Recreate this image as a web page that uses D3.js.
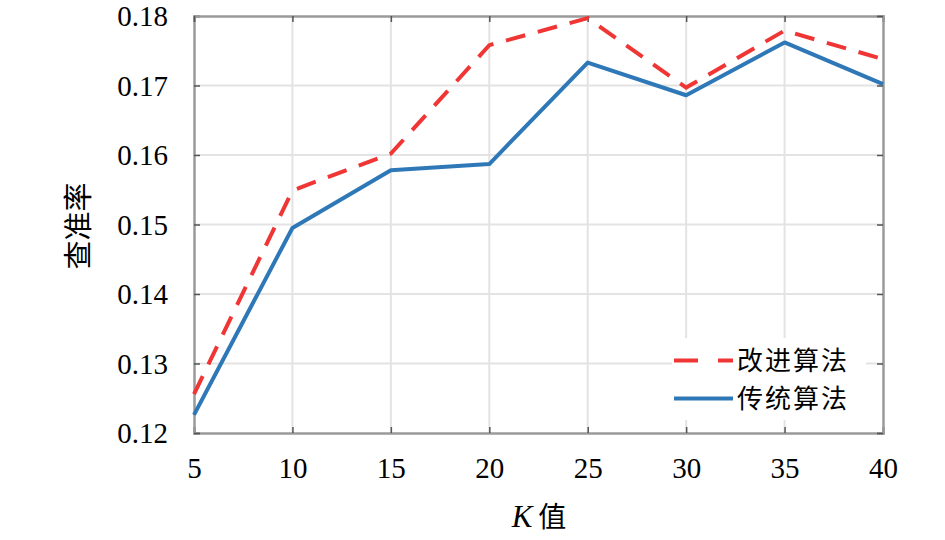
<!DOCTYPE html>
<html>
<head>
<meta charset="utf-8">
<script src="https://cdn.jsdelivr.net/npm/d3@7"></script>
<style>
  body { margin: 0; background: #fff; }
</style>
</head>
<body>
<div id="chart-area"></div>
<script>
// data
var kValues = [5, 10, 15, 20, 25, 30, 35, 40];
var improved = [0.1256, 0.1549, 0.1602, 0.1758, 0.1797, 0.1697, 0.1779, 0.1738];
var traditional = [0.1226, 0.1495, 0.1578, 0.1587, 0.1733, 0.1686, 0.1762, 0.1702];
var seriesNames = ["改进算法", "传统算法"];
var yTicks = [0.12, 0.13, 0.14, 0.15, 0.16, 0.17, 0.18];

var serif = "'Liberation Serif', 'Times New Roman', Times, 'DejaVu Serif', 'Noto Serif', serif";
var cjk = "'Noto Sans CJK SC', sans-serif";

var margin = { left: 194, right: 62, top: 16, bottom: 107 };
var width = 945 - margin.left - margin.right,
    height = 540 - margin.top - margin.bottom;

var svg = d3.select("#chart-area")
    .append("svg")
        .attr("width", 945)
        .attr("height", 540);

var g = svg.append("g")
    .attr("transform", "translate(" + margin.left + ", " + margin.top + ")");

var x = d3.scaleLinear().domain([5, 40]).range([0, width]);
var y = d3.scaleLinear().domain([0.12, 0.18]).range([height, 0]);

// grid
g.selectAll(".vgrid")
    .data(kValues.slice(1, -1))
    .enter().append("line")
        .attr("x1", function(d){ return x(d); })
        .attr("x2", function(d){ return x(d); })
        .attr("y1", 0).attr("y2", height)
        .attr("stroke", "#e3e3e3").attr("stroke-width", 2);

g.selectAll(".hgrid")
    .data(yTicks.slice(1, -1))
    .enter().append("line")
        .attr("y1", function(d){ return y(d); })
        .attr("y2", function(d){ return y(d); })
        .attr("x1", 0).attr("x2", width)
        .attr("stroke", "#e3e3e3").attr("stroke-width", 2);

// axes
var xAxis = g.append("g")
    .attr("transform", "translate(0," + height + ")")
    .call(d3.axisBottom(x).tickValues(kValues).tickSize(-6));
var yAxis = g.append("g")
    .call(d3.axisLeft(y).tickValues(yTicks).tickSize(-6).tickPadding(26)
        .tickFormat(d3.format(".2f")));
var xTop = g.append("g")
    .call(d3.axisTop(x).tickValues(kValues).tickSize(-6).tickFormat(""));
var yRight = g.append("g")
    .attr("transform", "translate(" + width + ",0)")
    .call(d3.axisRight(y).tickValues(yTicks).tickSize(-6).tickFormat(""));

[xAxis, yAxis, xTop, yRight].forEach(function(a){
    a.attr("font-family", null);
    a.select(".domain").attr("stroke", "#9a9a9a").attr("stroke-width", 2.5);
    a.selectAll(".tick line").attr("stroke", "#555").attr("stroke-width", 1.5);
    a.selectAll(".tick text")
        .style("font-size", "29px")
        .style("font-family", serif)
        .attr("fill", "#000");
});
xAxis.selectAll(".tick text").attr("y", 45).attr("dy", 0);
yAxis.selectAll(".tick text").attr("dy", "0.33em");

// lines
var line = d3.line()
    .x(function(d, i){ return x(kValues[i]); })
    .y(function(d){ return y(d); });

g.append("path")
    .datum(traditional)
    .attr("fill", "none")
    .attr("stroke", "#2f78b8")
    .attr("stroke-width", 4)
    .attr("stroke-linejoin", "round")
    .attr("d", line);

g.append("path")
    .datum(improved)
    .attr("fill", "none")
    .attr("stroke", "#f03535")
    .attr("stroke-width", 4)
    .attr("stroke-dasharray", "20,13")
    .attr("d", line);

// legend
var legend = g.append("g")
    .attr("transform", "translate(" + (672 - margin.left) + "," + (338 - margin.top) + ")");
legend.append("rect")
    .attr("width", 194).attr("height", 82)
    .attr("fill", "#fff");
var legendItems = [
    { name: seriesNames[0], color: "#f03535", dash: "24,20" },
    { name: seriesNames[1], color: "#2f78b8", dash: null }
];
legendItems.forEach(function(d, i){
    var ly = 22.5 + i * 38;
    legend.append("line")
        .attr("x1", 2).attr("x2", 61)
        .attr("y1", ly).attr("y2", ly)
        .attr("stroke", d.color)
        .attr("stroke-width", 4)
        .attr("stroke-dasharray", d.dash);
    legend.append("text")
        .attr("x", 65).attr("y", ly)
        .attr("dy", "0.36em")
        .style("font-family", cjk)
        .style("font-size", "26px")
        .style("letter-spacing", "2px")
        .attr("fill", "#000")
        .text(d.name);
});

// axis labels
var xl = svg.append("text")
    .attr("x", 539).attr("y", 527)
    .attr("text-anchor", "middle");
xl.append("tspan")
    .style("font-family", serif).style("font-style", "italic").style("font-size", "31px")
    .text("K");
xl.append("tspan")
    .style("font-family", cjk).style("font-size", "28px")
    .attr("dx", "6").text("值");

svg.append("text")
    .attr("transform", "translate(89,226) rotate(-90)")
    .attr("text-anchor", "middle")
    .style("font-family", cjk)
    .style("font-size", "29px")
    .attr("fill", "#000")
    .text("查准率");
</script>
</body>
</html>
